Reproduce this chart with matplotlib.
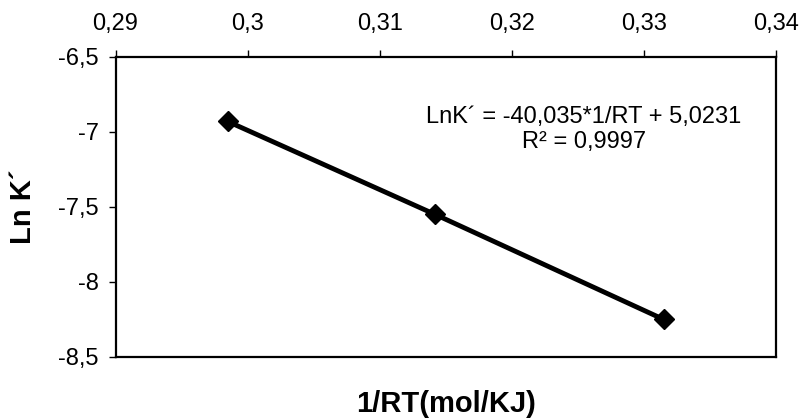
import matplotlib
matplotlib.use('Agg')
import matplotlib.pyplot as plt
from matplotlib.ticker import FuncFormatter, MultipleLocator

plt.rcParams['font.family'] = ['Liberation Sans', 'DejaVu Sans']

# data
inv_rt = [0.2985, 0.3142, 0.3315]
ln_k = [-6.93, -7.55, -8.25]
eq_line = 'LnK\u00b4 = -40,035*1/RT + 5,0231'
r2_line = 'R\u00b2 = 0,9997'

def comma(v, pos):
    return ('%g' % round(v, 4)).replace('.', ',')

fig = plt.figure(figsize=(7.99, 4.19), dpi=100)
ax = fig.add_axes([0.1446, 0.148, 0.8267, 0.716])

ax.plot(inv_rt, ln_k, color='black', lw=3.5, marker='D', ms=10.5, mfc='black', mec='black')

ax.set_xlim(0.29, 0.34)
ax.set_ylim(-8.5, -6.5)
ax.xaxis.set_major_locator(MultipleLocator(0.01))
ax.yaxis.set_major_locator(MultipleLocator(0.5))
ax.xaxis.set_major_formatter(FuncFormatter(comma))
ax.yaxis.set_major_formatter(FuncFormatter(comma))

ax.xaxis.tick_top()
ax.xaxis.set_label_position('bottom')
ax.tick_params(axis='both', direction='out', length=5, width=1, labelsize=17, colors='black')
ax.tick_params(axis='x', pad=11)
ax.tick_params(axis='y', pad=7)
for s in ax.spines.values():
    s.set_linewidth(1.6)

ax.set_xlabel('1/RT(mol/KJ)', fontsize=21, fontweight='bold', labelpad=24)
ax.set_ylabel('Ln K\u00b4', fontsize=21, fontweight='bold', labelpad=15)

ax.text(0.709, 0.78, eq_line, transform=ax.transAxes, ha='center', va='baseline', fontsize=17)
ax.text(0.709, 0.697, r2_line, transform=ax.transAxes, ha='center', va='baseline', fontsize=17)

fig.savefig('out.png', dpi=100)
